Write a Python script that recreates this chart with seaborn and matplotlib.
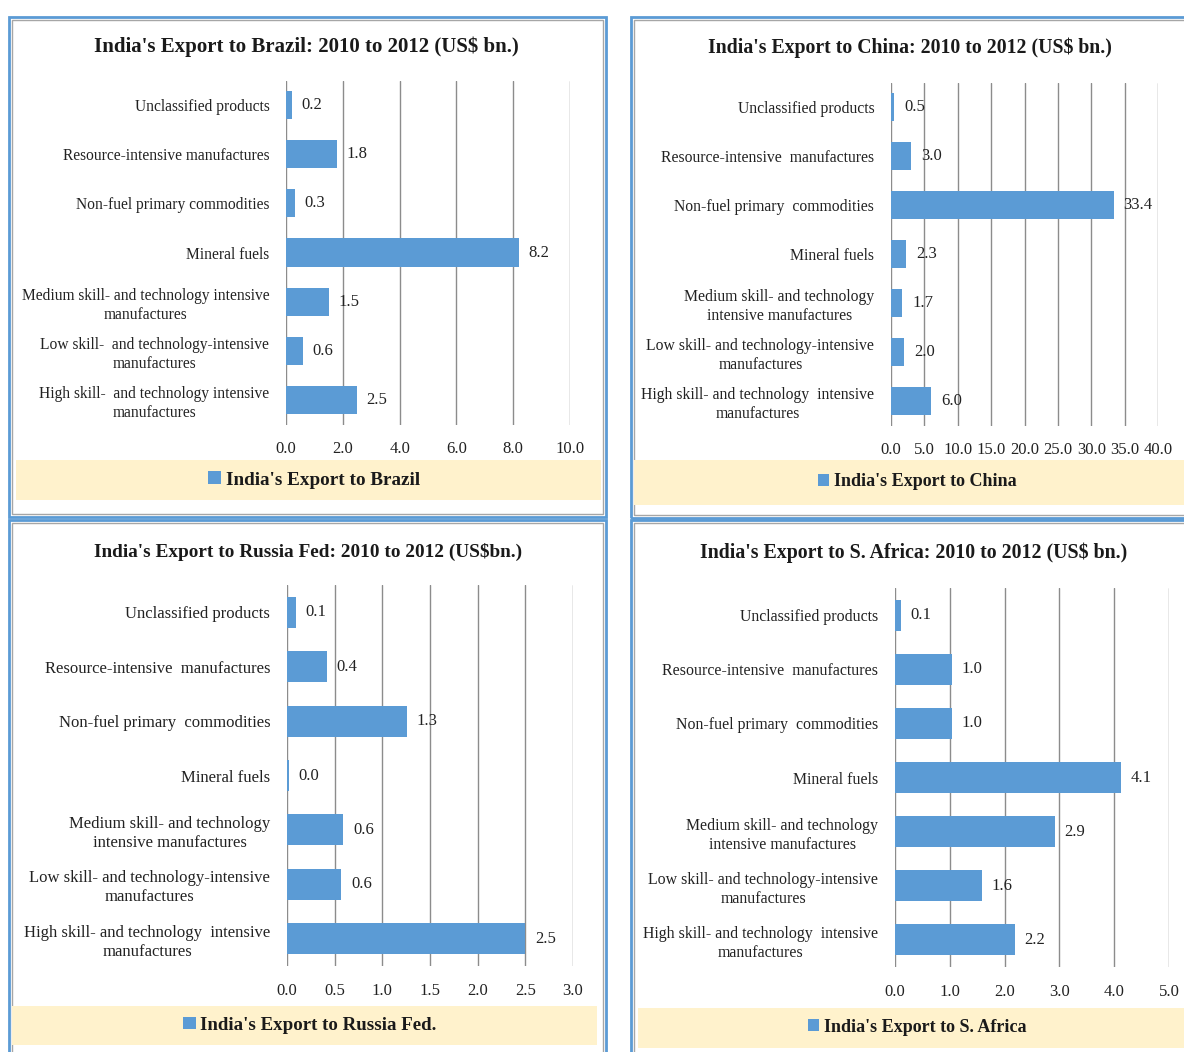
import numpy as np
import pandas as pd
import seaborn as sns
import matplotlib
matplotlib.use("Agg")
import matplotlib.pyplot as plt
from matplotlib.patches import Rectangle

# ---------------- data ----------------
categories_brazil = [
    "Unclassified products",
    "Resource-intensive manufactures",
    "Non-fuel primary commodities",
    "Mineral fuels",
    "Medium skill- and technology intensive\nmanufactures",
    "Low skill-  and technology-intensive\nmanufactures",
    "High skill-  and technology intensive\nmanufactures",
]
categories_other = [
    "Unclassified products",
    "Resource-intensive  manufactures",
    "Non-fuel primary  commodities",
    "Mineral fuels",
    "Medium skill- and technology\nintensive manufactures",
    "Low skill- and technology-intensive\nmanufactures",
    "High skill- and technology  intensive\nmanufactures",
]
brazil_values = [0.2, 1.8, 0.3, 8.2, 1.5, 0.6, 2.5]
china_values = [0.5, 3.0, 33.4, 2.3, 1.7, 2.0, 6.0]
russia_values = [0.09, 0.42, 1.26, 0.02, 0.59, 0.57, 2.5]
safrica_values = [0.11, 1.04, 1.04, 4.12, 2.92, 1.59, 2.19]

titles = [
    "India's Export to Brazil: 2010 to 2012 (US$ bn.)",
    "India's Export to China: 2010 to 2012 (US$ bn.)",
    "India's Export to Russia Fed: 2010 to 2012 (US$bn.)",
    "India's Export to S. Africa: 2010 to 2012 (US$ bn.)",
]
legend_labels = [
    "India's Export to Brazil",
    "India's Export to China",
    "India's Export to Russia Fed.",
    "India's Export to S. Africa",
]
x_max = [10.0, 40.0, 3.0, 5.0]
x_step = [2.0, 5.0, 0.5, 1.0]

# ---------------- style ----------------
sns.set_style("white")
plt.rcParams["font.family"] = ["Liberation Serif", "DejaVu Serif"]

W, H = 1184, 1052
fig = plt.figure(figsize=(W / 100, H / 100), dpi=100)
fig.patch.set_facecolor("white")

BAR = "#5B9BD5"
GRID = "#8C8C8C"
TXT = "#222222"


def frect(x0, y0, x1, y1):
    return (x0 / W, 1 - y1 / H, (x1 - x0) / W, (y1 - y0) / H)


# panel geometry in pixels
panels = [
    dict(box=(9, 17, 606, 517), ax=(286, 80.5, 570, 424.5), title=(306, 47),
         band=(16, 460, 601, 500), leg=(314, 480), tsize=15, ysize=11.2, lsize=13.8),
    dict(box=(631, 17, 1190, 518), ax=(891, 82.5, 1158, 425.5), title=(910, 48),
         band=(634, 460, 1190, 505), leg=(917, 482), tsize=14.2, ysize=11.3, lsize=13.0),
    dict(box=(9, 520, 606, 1060), ax=(287, 585, 573, 966), title=(308, 552),
         band=(12, 1006, 597, 1045), leg=(310, 1025), tsize=13.9, ysize=12, lsize=13.6),
    dict(box=(631, 520, 1190, 1060), ax=(895, 588, 1169, 967), title=(914, 553),
         band=(638, 1008, 1190, 1048), leg=(917, 1027), tsize=14.3, ysize=11.4, lsize=13.0),
]
cats_list = [categories_brazil, categories_other, categories_other, categories_other]
vals_list = [brazil_values, china_values, russia_values, safrica_values]

for i, p in enumerate(panels):
    # panel borders
    bx0, by0, bx1, by1 = p["box"]
    ox = frect(bx0, by0, bx1, by1)
    fig.add_artist(Rectangle(ox[:2], ox[2], ox[3], transform=fig.transFigure,
                             fill=False, edgecolor="#5B9BD5", lw=2.0, zorder=-2))
    ix = frect(bx0 + 3, by0 + 3, bx1 - 3, by1 - 3)
    fig.add_artist(Rectangle(ix[:2], ix[2], ix[3], transform=fig.transFigure,
                             fill=False, edgecolor="#A6A6A6", lw=1.0, zorder=-2))
    # legend band
    b = frect(*p["band"])
    fig.add_artist(Rectangle(b[:2], b[2], b[3], transform=fig.transFigure,
                             facecolor="#FFF2CC", edgecolor="none", zorder=-1))

    ax = fig.add_axes(frect(*p["ax"]))
    ax.patch.set_facecolor("none")
    df = pd.DataFrame({"category": cats_list[i], "value": vals_list[i]})
    sns.barplot(data=df, x="value", y="category", orient="h", color=BAR,
                saturation=1, width=0.57, ax=ax, label=legend_labels[i],
                linewidth=0, edgecolor="none")
    ax.set_xlim(0, x_max[i])
    ax.set_ylim(6.5, -0.5)
    ticks = np.arange(0, x_max[i] + x_step[i] / 2, x_step[i])
    ax.set_xticks(ticks)
    ax.set_xticklabels([f"{t:.1f}" for t in ticks])
    ax.xaxis.grid(True, color=GRID, lw=1.0)
    ax.yaxis.grid(False)
    ax.set_axisbelow(True)
    for s in ax.spines.values():
        s.set_visible(False)
    ax.tick_params(axis="x", length=0, pad=12, labelsize=12, labelcolor=TXT)
    ax.tick_params(axis="y", length=0, pad=12, labelsize=p["ysize"], labelcolor=TXT)
    for t in ax.get_yticklabels():
        t.set_multialignment("center")
        t.set_linespacing(1.25)
    ax.set_xlabel("")
    ax.set_ylabel("")
    ax.bar_label(ax.containers[0], fmt="%.1f", padding=7, fontsize=12, color=TXT)

    tx, ty = p["title"]
    fig.text(tx / W, 1 - ty / H, titles[i], ha="center", va="center",
             fontsize=p["tsize"], fontweight="bold", color="#1a1a1a")

    lx, ly = p["leg"]
    ax.legend(loc="center", bbox_to_anchor=(lx / W, 1 - ly / H),
              bbox_transform=fig.transFigure, frameon=False,
              prop={"weight": "bold", "size": p["lsize"]}, handlelength=0.65,
              handleheight=0.65, handletextpad=0.25, labelcolor="#1a1a1a")

fig.savefig("out.png", dpi=100)
